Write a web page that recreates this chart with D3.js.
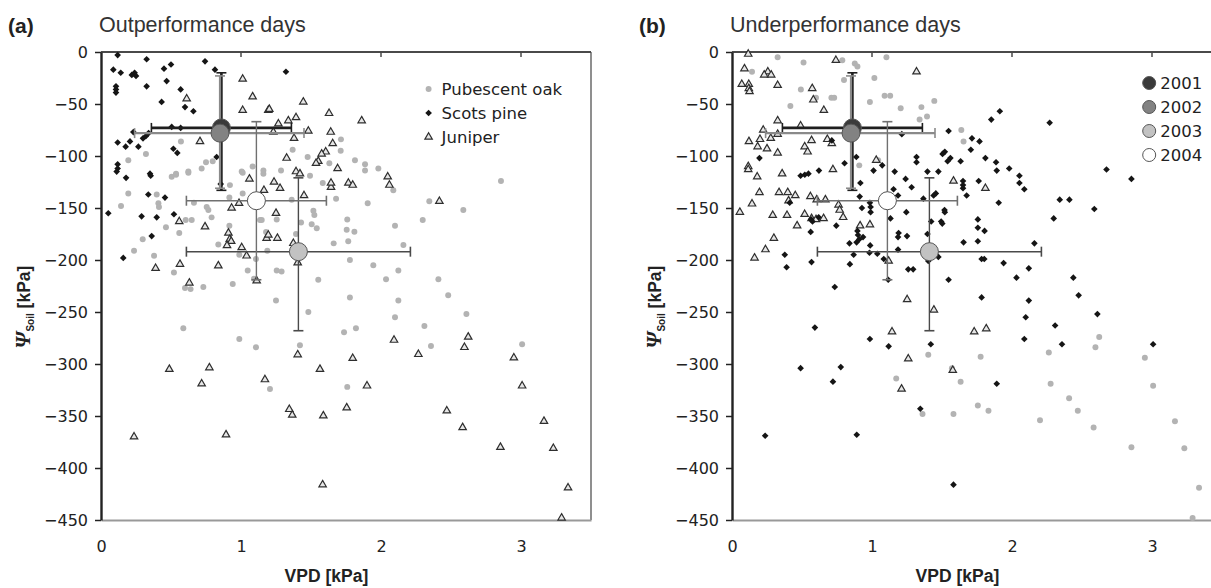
<!DOCTYPE html>
<html>
<head>
<meta charset="utf-8">
<script src="https://cdn.jsdelivr.net/npm/d3@7"></script>
<style>
  html, body { margin: 0; padding: 0; background: #fff; }
  svg { display: block; }
</style>
</head>
<body>
<svg id="chart" width="1211" height="588"></svg>
<script>
// ---- Axis ticks -------------------------------------------------------
const vpdTicks = [0, 1, 2, 3];
const psiTicks = [0, -50, -100, -150, -200, -250, -300, -350, -400, -450];

// ---- Yearly means with error ranges -----------------------------------
const years    = ["2001", "2002", "2003", "2004"];
const meanVpd  = [0.86, 0.85, 1.41, 1.11];
const meanPsi  = [-73, -78, -192, -143];
const vpdLow   = [0.36, 0.24, 0.61, 0.61];
const vpdHigh  = [1.36, 1.45, 2.21, 1.61];
const psiTop   = [-20, -23, -121, -67];
const psiBot   = [-133, -131, -268, -219];

// ---- (a) Outperformance days: [VPD, Psi_soil] -------------------------
const outOak = [
  [0.571,-86],[0.321,-98],[0.195,-104],[0.75,-106],[0.798,-105],[0.624,-115],[0.719,-112],[0.536,-117],
  [1.005,-115],[1.083,-110],[1.16,-114],[1.714,-84],[1.712,-95],[1.369,-94],[1.476,-101],[1.631,-107],
  [1.814,-104],[1.886,-108],[1.886,-114],[1.981,-112],[1.286,-114],[2.857,-124],[2.345,-143.5],[2.588,-152],
  [2.298,-161.5],[0.505,-120],[0.536,-118],[0.624,-116],[0.921,-128],[1.012,-116],[1.16,-117],[0.195,-136],
  [0.398,-137],[0.41,-145.5],[0.414,-149],[0.143,-148],[0.917,-140],[1.012,-136],[0.605,-161.5],[0.648,-161.5],
  [0.79,-159],[0.464,-168.6],[0.559,-174],[0.298,-180],[0.236,-191],[0.379,-196],[0.521,-212],[0.917,-167],
  [0.838,-185],[0.988,-195],[1.107,-199],[1.048,-210],[1.093,-218],[0.731,-226],[0.941,-223],[1.179,-173],
  [1.136,-161.5],[0.755,-149],[0.767,-152],[0.664,-145],[0.6,-227],[0.64,-228],
  [1.493,-119],[1.584,-126],[1.679,-141],[2.088,-133],[1.362,-142],[1.905,-145.5],[1.255,-161],[1.517,-152.6],
  [1.524,-156.7],[1.148,-161.5],[1.429,-164],[1.505,-165.7],[1.541,-169.5],[1.759,-161],[1.755,-171],[1.81,-172.8],
  [2.1,-167],[1.393,-175],[1.662,-184],[1.766,-182],[2.16,-185.6],[1.188,-191],[1.778,-200],[1.945,-205],
  [2.124,-210],[1.255,-210],[1.29,-211],[2.036,-218.6],[1.552,-219],[2.41,-218.6],
  [0.588,-265.7],[0.988,-276],[1.107,-284],[1.207,-324],[1.25,-239],[1.481,-250],[1.778,-236],[2.124,-239],
  [2.1,-255],[2.31,-263.5],[2.357,-282.7],[1.421,-282],[1.736,-269.5],[1.821,-265.7],[1.759,-322],
  [2.48,-234],[2.61,-252],[3.008,-281]
];
const outPine = [
  [0.119,-3],[0.326,-7],[0.743,-9],[0.088,-17],[0.141,-20],[0.22,-22],[0.24,-20],[0.25,-23],[0.45,-16],
  [0.5,-12],[0.814,-17],[0.107,-33],[0.107,-36],[0.107,-39],[0.326,-33],[0.469,-28],[0.569,-36],[0.433,-48],
  [0.6,-53],[0.66,-57],[0.505,-72],[0.569,-73],[0.231,-77],[0.3,-83],[0.32,-81],[0.34,-78],[0.119,-87],
  [0.207,-86],[0.176,-91],[0.267,-91],[0.517,-93],[0.545,-97],[0.826,-101],[0.119,-108],[0.119,-112],
  [0.35,-117],[1.321,-19],[0.112,-115],[0.179,-121],[0.355,-119],[0.855,-127],[0.338,-137],[0.457,-140],
  [0.052,-155],[0.29,-158],[0.398,-159],[0.521,-156],[0.362,-177],[0.159,-198]
];
const outJuniper = [
  [0.612,-45],[1.012,-26],[1.083,-43],[1.012,-56],[1.195,-56],[0.707,-86],[1.202,-55],[1.445,-48],
  [1.267,-69],[1.338,-66],[1.393,-63],[1.629,-59],[1.862,-66],[1.231,-77],[1.481,-76],[1.379,-83],
  [1.641,-77],[1.655,-88],[1.326,-102],[1.605,-96],[1.576,-98],[1.552,-105],[1.536,-107],[1.69,-112],
  [1.393,-115],[1.421,-117],[2.417,-143.5],[1.06,-122],[1.164,-133],[0.559,-163],[0.743,-168],[0.39,-208],
  [0.564,-204],[0.838,-205.5],[0.91,-174],[0.92,-180],[0.93,-182],[0.9,-186],[1.005,-188],[1.04,-196],
  [1.112,-220],[0.631,-222],[1.183,-179],[0.933,-150],[0.986,-145.5],[1.236,-125],[1.279,-131],[1.767,-126],
  [1.798,-128],[1.643,-130],[1.643,-126],[2.048,-120],[2.06,-128],[1.45,-138],[1.25,-155],[1.374,-184],
  [1.195,-176],[1.26,-179],[1.405,-202.6],[0.488,-305],[0.774,-303.5],[0.719,-319],[1.171,-315],[0.236,-370],
  [0.893,-368],[1.405,-291],[1.798,-294.5],[2.093,-277],[2.267,-290.7],[1.564,-305],[1.9,-321],[1.345,-343.6],
  [1.366,-349],[1.588,-349.7],[1.755,-342],[1.583,-416],[2.47,-345],[2.583,-361],[2.596,-284],[2.623,-274],
  [2.853,-380],[2.949,-294],[3.008,-321],[3.164,-355],[3.231,-381],[3.336,-419],[3.29,-448]
];

// ---- (b) Underperformance days: [VPD, Psi_soil] -----------------------
const underOak = [
  [0.326,-5],[0.511,-10],[0.788,-8],[1.103,-5],[0.877,-11],[0.896,-14],[0.143,-19],[0.492,-36],[0.8,-27],
  [1.017,-25],[0.417,-52],[0.6,-44],[0.71,-44],[0.73,-44],[0.985,-48],[1.09,-42],[1.13,-42],[1.205,-54],
  [1.353,-53],[1.445,-47],[1.393,-62],[1.34,-65],[1.638,-75],[1.654,-86],[0.909,-109],[1.044,-104],
  [1.402,-291],[1.173,-314],[1.571,-304],[1.633,-317],[1.361,-348],[1.582,-348],[1.776,-293],[1.756,-340],
  [1.832,-345],[2.263,-289],[2.276,-319],[2.2,-354],[2.408,-333],[2.47,-345],[2.583,-361],[2.596,-284],
  [2.623,-274],[2.853,-380],[2.949,-294],[3.008,-321],[3.164,-355],[3.231,-381],[3.336,-419],[3.29,-448]
];
const underPine = [
  [0.713,-85],[1.213,-79],[0.196,-102],[0.49,-119],[0.52,-118],[0.546,-117],[0.621,-114],[0.804,-107],
  [0.888,-101],[0.917,-126],[1.011,-114],[1.073,-109],[1.162,-115],[1.24,-122],[1.283,-130],[1.318,-101],
  [1.318,-106],[1.396,-115],[1.474,-115],[1.504,-98],[1.52,-96],[1.547,-76],[1.56,-102],[1.54,-105],
  [1.714,-83],[1.768,-86],[1.706,-94],[1.633,-105],[1.65,-124],[1.65,-128],[1.65,-131],[1.676,-138],
  [1.762,-124],[1.81,-102],[1.886,-106],[1.891,-114],[1.98,-112],[2.053,-119],[2.053,-126],[2.088,-132],
  [1.905,-145],[1.852,-65],[1.913,-57],[2.269,-68],[2.675,-113],[2.853,-122],[2.341,-142],[2.41,-142],
  [2.298,-160],[2.588,-151],[2.16,-184],[0.412,-145],[0.565,-161],[0.575,-163],[0.619,-159],[0.745,-167],
  [0.912,-139],[0.985,-145],[0.99,-149],[0.99,-154],[0.928,-150],[0.562,-173],[0.377,-195],[0.39,-207],
  [0.568,-202],[0.839,-184],[0.842,-204],[0.869,-195],[0.896,-172],[0.9,-176],[0.89,-183],[0.909,-180],
  [0.936,-178],[0.987,-186],[0.982,-193],[1.038,-194],[1.084,-199],[1.116,-219],[1.132,-160],[1.138,-148],
  [1.154,-132],[1.186,-138],[1.19,-174],[1.186,-178],[1.25,-177],[1.186,-190],[1.245,-154],[1.259,-209],
  [1.294,-209],[1.367,-141],[1.396,-175],[1.423,-163],[1.44,-138],[1.456,-136],[1.494,-163],[1.502,-165],
  [1.518,-152],[1.52,-154],[1.474,-197],[1.402,-201],[1.547,-219],[1.654,-183],[1.756,-161],[1.756,-169],
  [1.804,-172],[1.756,-182],[1.783,-199],[1.802,-199],[1.783,-236],[1.94,-203],[2.032,-217],[2.12,-208],
  [2.12,-239],[2.098,-255],[2.088,-276],[2.438,-217],[2.476,-234],[2.61,-252],[2.308,-263],[2.357,-281],
  [3.008,-281],[1.891,-319],[1.42,-281],[1.119,-283],[0.985,-276],[0.777,-303],[0.721,-317],[0.49,-304],
  [0.592,-265],[0.734,-226],[1.345,-343],[0.237,-369],[0.891,-368],[1.582,-416]
];
const underJuniper = [
  [0.116,-2],[0.742,-8],[0.089,-16],[0.256,-19],[0.23,-22],[0.28,-22],[0.326,-32],[0.07,-31],[0.12,-31],
  [0.12,-35],[0.125,-38],[0.573,-35],[1.318,-19],[0.581,-46],[0.656,-56],[0.326,-66],[0.223,-75],[0.277,-83],
  [0.326,-79],[0.121,-86],[0.183,-91],[0.2,-84],[0.25,-93],[0.49,-71],[0.519,-91],[0.568,-85],[0.54,-96],
  [0.681,-84],[0.713,-88],[0.326,-97],[0.116,-110],[0.116,-113],[0.18,-120],[0.358,-117],[0.721,-113],
  [1.03,-104],[1.582,-124],[1.81,-131],[0.605,-142],[0.667,-142],[0.56,-139],[0.452,-138],[0.398,-135],
  [0.336,-135],[0.196,-135],[0.404,-143],[0.056,-154],[0.143,-146],[0.291,-157],[0.393,-157],[0.519,-156],
  [0.568,-160],[0.6,-161],[0.654,-160],[0.761,-147],[0.769,-152],[0.794,-159],[0.915,-167],[0.465,-167],
  [0.299,-179],[0.161,-198],[0.239,-190],[1.119,-201],[1.251,-238],[1.442,-248],[1.143,-269],[1.259,-295],
  [1.211,-324],[1.577,-306],[1.73,-269],[1.816,-266],[0.985,-166]
];

const speciesNames = ["Pubescent oak", "Scots pine", "Juniper"];

// ---- Styling ----------------------------------------------------------
const tickFont = "'DejaVu Sans', Verdana, sans-serif";
const titleFont = "'Liberation Sans', Arial, sans-serif";
const yearFill = ["#3a3a3a", "#828282", "#c2c2c2", "#ffffff"];
const barColor = ["#1e1e1e", "#8a8a8a", "#4a4a4a", "#707070"];
const barWidth = [2.6, 2.2, 1.4, 1.4];

const svg = d3.select("#chart");
svg.append("rect").attr("width", 1211).attr("height", 588).attr("fill", "#fff");

const plotTop = 52, plotBottom = 520, plotW = 490;
const y = d3.scaleLinear().domain([-450, 0]).range([plotBottom, plotTop]);

const symOak = d3.symbol().type(d3.symbolCircle).size(28);
const symPine = d3.symbol().type(d3.symbolSquare).size(22);
const symJun = d3.symbol().type(d3.symbolTriangle).size(24);

function drawMarks(g, x, data, kind) {
  const sel = g.append("g").selectAll("path").data(data).join("path")
    .attr("transform", d => kind === "pine"
      ? `translate(${x(d[0])},${y(d[1])}) rotate(45)`
      : `translate(${x(d[0])},${y(d[1])})`);
  if (kind === "oak") sel.attr("d", symOak()).attr("fill", "#b3b3b3");
  if (kind === "pine") sel.attr("d", symPine()).attr("fill", "#151515");
  if (kind === "jun") sel.attr("d", symJun()).attr("fill", "#e6e6e6")
      .attr("stroke", "#2e2e2e").attr("stroke-width", 1.2);
}

function drawPanel(left, letter, title, oak, pine, jun, legendKind) {
  const x = d3.scaleLinear().domain([0, 3.5]).range([left, left + plotW]);
  const g = svg.append("g");

  // frame (right & bottom light, top dark with inner ticks)
  g.append("line").attr("x1", x(3.5)).attr("x2", x(3.5)).attr("y1", plotTop).attr("y2", plotBottom)
    .attr("stroke", "#8f8f8f").attr("stroke-width", 2);
  g.append("line").attr("x1", left).attr("x2", x(3.5)).attr("y1", plotTop).attr("y2", plotTop)
    .attr("stroke", "#4a4a4a").attr("stroke-width", 2);
  g.append("g").selectAll("line").data(vpdTicks.slice(1)).join("line")
    .attr("x1", d => x(d)).attr("x2", d => x(d)).attr("y1", plotTop).attr("y2", plotTop + 5)
    .attr("stroke", "#4a4a4a").attr("stroke-width", 1.5);

  // bottom axis: labels only, light axis line
  const xAxis = g.append("g").attr("transform", `translate(0,${plotBottom})`)
    .call(d3.axisBottom(x).tickValues(vpdTicks).tickSize(0).tickPadding(21).tickFormat(d3.format("d")));
  xAxis.select(".domain").attr("stroke", "#999").attr("stroke-width", 2.2);
  xAxis.selectAll("text").attr("font-family", tickFont).attr("font-size", 16).attr("fill", "#222");

  // left axis
  const yAxis = g.append("g").attr("transform", `translate(${left},0)`)
    .call(d3.axisLeft(y).tickValues(psiTicks).tickSize(6).tickPadding(7).tickSizeOuter(0));
  yAxis.select(".domain").attr("stroke", "#222").attr("stroke-width", 2.4);
  yAxis.selectAll(".tick line").attr("stroke", "#222").attr("stroke-width", 1.5);
  yAxis.selectAll("text").attr("font-family", tickFont).attr("font-size", 16).attr("fill", "#222");

  // titles
  g.append("text").attr("x", left - 93).attr("y", 33).text(`(${letter})`)
    .attr("font-family", titleFont).attr("font-weight", "bold").attr("font-size", 21).attr("fill", "#222");
  g.append("text").attr("x", left - 2).attr("y", 32).text(title)
    .attr("font-family", titleFont).attr("font-size", 21.5).attr("fill", "#333");

  // axis labels
  g.append("text").attr("x", x(1.61)).attr("y", 582).attr("text-anchor", "middle")
    .attr("font-family", titleFont).attr("font-weight", "bold").attr("font-size", 17.5)
    .attr("fill", "#222").text("VPD [kPa]");
  const yl = g.append("text").attr("transform", `translate(${left - 71},307) rotate(-90)`)
    .attr("text-anchor", "middle").attr("fill", "#222");
  yl.append("tspan").text("Ψ").attr("font-family", "'Liberation Serif', serif")
    .attr("font-weight", "bold").attr("font-style", "italic").attr("font-size", 21);
  yl.append("tspan").text("Soil").attr("font-family", titleFont).attr("font-weight", "bold")
    .attr("font-size", 10).attr("dy", 4);
  yl.append("tspan").text(" [kPa]").attr("font-family", titleFont).attr("font-weight", "bold")
    .attr("font-size", 17.5).attr("dy", -4);

  // scatter
  drawMarks(g, x, oak, "oak");
  drawMarks(g, x, jun, "jun");
  drawMarks(g, x, pine, "pine");

  // yearly means with error bars
  const cap = 5;
  years.forEach((yr, i) => {
    const eg = g.append("g").attr("stroke", barColor[i]).attr("stroke-width", barWidth[i]);
    eg.append("line").attr("x1", x(meanVpd[i])).attr("x2", x(meanVpd[i]))
      .attr("y1", y(psiTop[i])).attr("y2", y(psiBot[i]));
    eg.append("line").attr("x1", x(vpdLow[i])).attr("x2", x(vpdHigh[i]))
      .attr("y1", y(meanPsi[i])).attr("y2", y(meanPsi[i]));
    [psiTop[i], psiBot[i]].forEach(v => eg.append("line")
      .attr("x1", x(meanVpd[i]) - cap).attr("x2", x(meanVpd[i]) + cap)
      .attr("y1", y(v)).attr("y2", y(v)).attr("stroke-width", 1.6));
    [vpdLow[i], vpdHigh[i]].forEach(v => eg.append("line")
      .attr("x1", x(v)).attr("x2", x(v))
      .attr("y1", y(meanPsi[i]) - cap).attr("y2", y(meanPsi[i]) + cap).attr("stroke-width", 1.6));
  });
  years.forEach((yr, i) => {
    g.append("circle").attr("cx", x(meanVpd[i])).attr("cy", y(meanPsi[i])).attr("r", 9)
      .attr("fill", yearFill[i]).attr("stroke", "#555").attr("stroke-width", 1);
  });

  // legends
  const lg = g.append("g");
  if (legendKind === "species") {
    const kinds = ["oak", "pine", "jun"];
    speciesNames.forEach((name, i) => {
      const yy = 89 + i * 24;
      const m = lg.append("path").attr("transform", kinds[i] === "pine"
          ? `translate(${x(2.34)},${yy}) rotate(45)` : `translate(${x(2.34)},${yy})`);
      if (kinds[i] === "oak") m.attr("d", symOak()).attr("fill", "#b3b3b3");
      if (kinds[i] === "pine") m.attr("d", symPine()).attr("fill", "#151515");
      if (kinds[i] === "jun") m.attr("d", symJun()).attr("fill", "#e6e6e6").attr("stroke", "#2e2e2e").attr("stroke-width", 1.2);
      lg.append("text").attr("x", x(2.34) + 13).attr("y", yy + 6).text(name)
        .attr("font-family", tickFont).attr("font-size", 16.5).attr("fill", "#222");
    });
  } else {
    years.forEach((yr, i) => {
      const yy = 83 + i * 24;
      lg.append("circle").attr("cx", x(2.98)).attr("cy", yy).attr("r", 6.5)
        .attr("fill", yearFill[i]).attr("stroke", "#555").attr("stroke-width", 1);
      lg.append("text").attr("x", x(2.98) + 11).attr("y", yy + 6).text(yr)
        .attr("font-family", tickFont).attr("font-size", 16.5).attr("fill", "#222");
    });
  }
}

drawPanel(101, "a", "Outperformance days", outOak, outPine, outJuniper, "species");
drawPanel(732, "b", "Underperformance days", underOak, underPine, underJuniper, "years");
</script>
</body>
</html>
